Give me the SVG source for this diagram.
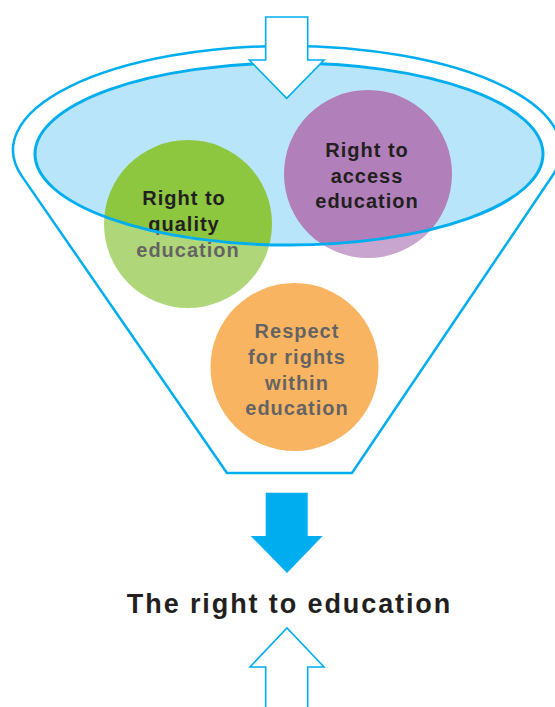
<svg xmlns="http://www.w3.org/2000/svg" width="555" height="707" viewBox="0 0 555 707">
<style>
.line{fill:none;stroke:#00aeef;stroke-linejoin:miter}
.lbl{font-family:"Liberation Sans",Arial,sans-serif;font-weight:bold;font-size:20px;letter-spacing:1px;fill:#231f20;text-anchor:middle}
.title{font-family:"Liberation Sans",Arial,sans-serif;font-weight:bold;font-size:27px;letter-spacing:1.9px;fill:#231f20;text-anchor:middle}
</style>
<rect width="555" height="707" fill="#ffffff"/>
<g id="funnel-fill">
<ellipse cx="289" cy="154" rx="254" ry="91" fill="#b8e5f9"/>
</g>
<g id="node-quality">
<circle cx="188" cy="224" r="84" fill="#8dc63f"/>
<text class="lbl"><tspan x="184" y="205">Right to</tspan><tspan x="184" y="231">quality</tspan><tspan x="188" y="257">education</tspan></text>
</g>
<g id="node-access">
<circle cx="368" cy="174" r="84" fill="#b17fb9"/>
<text class="lbl"><tspan x="367" y="157">Right to</tspan><tspan x="367" y="183">access</tspan><tspan x="367" y="208">education</tspan></text>
</g>
<g id="node-respect">
<circle cx="294.5" cy="367" r="84" fill="#f7941d"/>
<text class="lbl"><tspan x="297" y="338">Respect</tspan><tspan x="297" y="364">for rights</tspan><tspan x="297" y="390">within</tspan><tspan x="297" y="415">education</tspan></text>
</g>
<path id="outside-veil" d="M0 0H555V707H0Z M35 154A254 91 0 1 0 543 154A254 91 0 1 0 35 154Z" fill="#ffffff" fill-opacity="0.3" fill-rule="evenodd"/>
<g id="funnel">
<path class="line" stroke-width="2.5" d="M227 473L22 176.4A274 104 0 1 1 552.4 175.8L352 473Z"/>
<ellipse class="line" stroke-width="3" cx="289" cy="154" rx="254" ry="91"/>
</g>
<g id="connectors">
<path id="arrow-in-top" class="line" stroke-width="1.6" fill="#ffffff" style="fill:#ffffff" d="M265.7 17H307.7V60H324L286.7 98.3L249.3 60H265.7Z"/>
<path id="arrow-out" fill="#00aeef" d="M265.7 492.7H307.7V536H322.7L287 573L250.7 536H265.7Z"/>
<path id="arrow-in-bottom" class="line" stroke-width="1.6" d="M265.7 712V667H250L287 628L324 667H307.7V712"/>
</g>
<g id="result">
<text class="title" x="289.5" y="613">The right to education</text>
</g>
</svg>
